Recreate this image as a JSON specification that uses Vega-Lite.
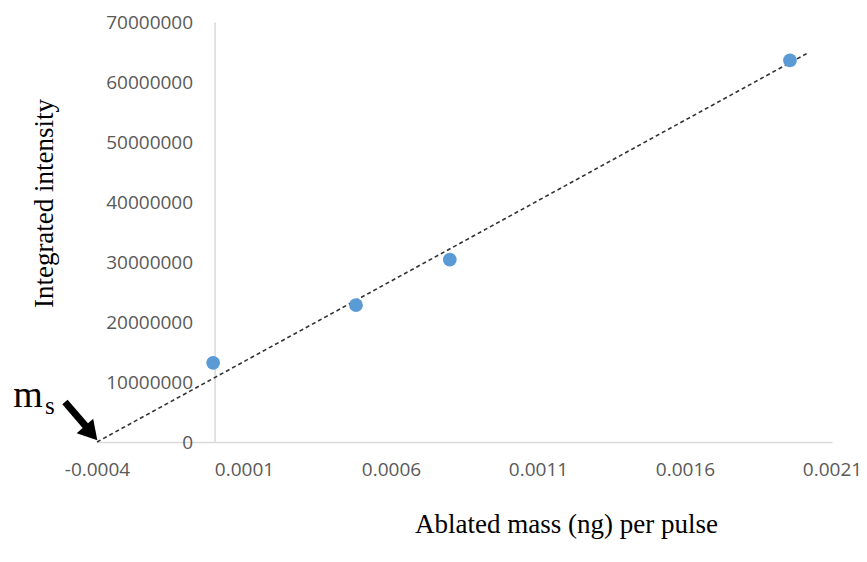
{
  "$schema": "https://vega.github.io/schema/vega-lite/v6.json",
  "width": 735,
  "height": 420,
  "autosize": {"type": "none"},
  "padding": {"left": 97, "top": 22, "right": 35, "bottom": 120},
  "background": "white",
  "config": {"view": {"stroke": null}},
  "datasets": {
    "points": [
      {"x": -0.000005, "y": 13200000},
      {"x": 0.000481, "y": 22800000},
      {"x": 0.000800, "y": 30400000},
      {"x": 0.001957, "y": 63600000}
    ],
    "trend": [
      {"x": -0.0004, "y": 0},
      {"x": 0.00202, "y": 64900000}
    ],
    "arrow": [
      {"x": -0.000509, "y": 6670000, "x2": -0.000425, "y2": 1900000}
    ],
    "head": [
      {"x": -0.00042, "y": 1470000}
    ],
    "labels": [
      {"x": -0.000635, "y": 5830000, "t": "m", "sz": "big"},
      {"x": -0.000560, "y": 4700000, "t": "s", "sz": "small"}
    ]
  },
  "layer": [
    {
      "data": {"name": "trend"},
      "mark": {"type": "line", "color": "#333333", "strokeWidth": 1.6, "strokeDash": [4, 3]},
      "encoding": {
        "x": {
          "field": "x", "type": "quantitative",
          "scale": {"domain": [-0.0004, 0.0021], "nice": false, "zero": false},
          "axis": {
            "values": [-0.0004, 0.0001, 0.0006, 0.0011, 0.0016, 0.0021],
            "labelExpr": "replace(format(datum.value, '.4f'), '\u2212', '-')",
            "labelFlush": false, "labelOverlap": false,
            "grid": false, "ticks": false,
            "domainColor": "#d9d9d9", "domainWidth": 1.5,
            "labelColor": "#595959", "labelFont": "Open Sans", "labelFontSize": 19,
            "labelPadding": 18,
            "title": "Ablated mass (ng) per pulse",
            "titleFont": "Liberation Serif", "titleFontSize": 27, "titleFontWeight": "normal",
            "titleColor": "#000000",
            "titleX": 469, "titleY": 82, "titleBaseline": "middle"
          }
        },
        "y": {
          "field": "y", "type": "quantitative",
          "scale": {"domain": [0, 70000000], "nice": false},
          "axis": {
            "values": [0, 10000000, 20000000, 30000000, 40000000, 50000000, 60000000, 70000000],
            "format": "d",
            "offset": -117.6,
            "labelOverlap": false,
            "grid": false, "ticks": false,
            "domainColor": "#d9d9d9", "domainWidth": 1.5,
            "labelColor": "#595959", "labelFont": "Open Sans", "labelFontSize": 19,
            "labelPadding": 22,
            "title": "Integrated intensity",
            "titleFont": "Liberation Serif", "titleFontSize": 27, "titleFontWeight": "normal",
            "titleColor": "#000000",
            "titleX": -170, "titleY": 181, "titleAngle": -90, "titleBaseline": "middle", "titleAlign": "center"
          }
        }
      }
    },
    {
      "data": {"name": "points"},
      "mark": {"type": "point", "shape": "circle", "filled": true, "color": "#5b9bd5", "opacity": 1, "size": 190},
      "encoding": {
        "x": {"field": "x", "type": "quantitative"},
        "y": {"field": "y", "type": "quantitative"}
      }
    },
    {
      "data": {"name": "arrow"},
      "mark": {"type": "rule", "color": "#000000", "strokeWidth": 7},
      "encoding": {
        "x": {"field": "x", "type": "quantitative"},
        "y": {"field": "y", "type": "quantitative"},
        "x2": {"field": "x2"},
        "y2": {"field": "y2"}
      }
    },
    {
      "data": {"name": "head"},
      "mark": {"type": "point", "shape": "triangle-up", "filled": true, "color": "#000000", "opacity": 1, "size": 480, "angle": 139},
      "encoding": {
        "x": {"field": "x", "type": "quantitative"},
        "y": {"field": "y", "type": "quantitative"}
      }
    },
    {
      "data": {"name": "labels"},
      "mark": {"type": "text", "font": "Liberation Serif", "color": "#000000", "align": "center", "baseline": "alphabetic"},
      "encoding": {
        "x": {"field": "x", "type": "quantitative"},
        "y": {"field": "y", "type": "quantitative"},
        "text": {"field": "t"},
        "size": {"field": "sz", "type": "nominal", "scale": {"domain": ["big", "small"], "range": [38, 25]}, "legend": null}
      }
    }
  ]
}
